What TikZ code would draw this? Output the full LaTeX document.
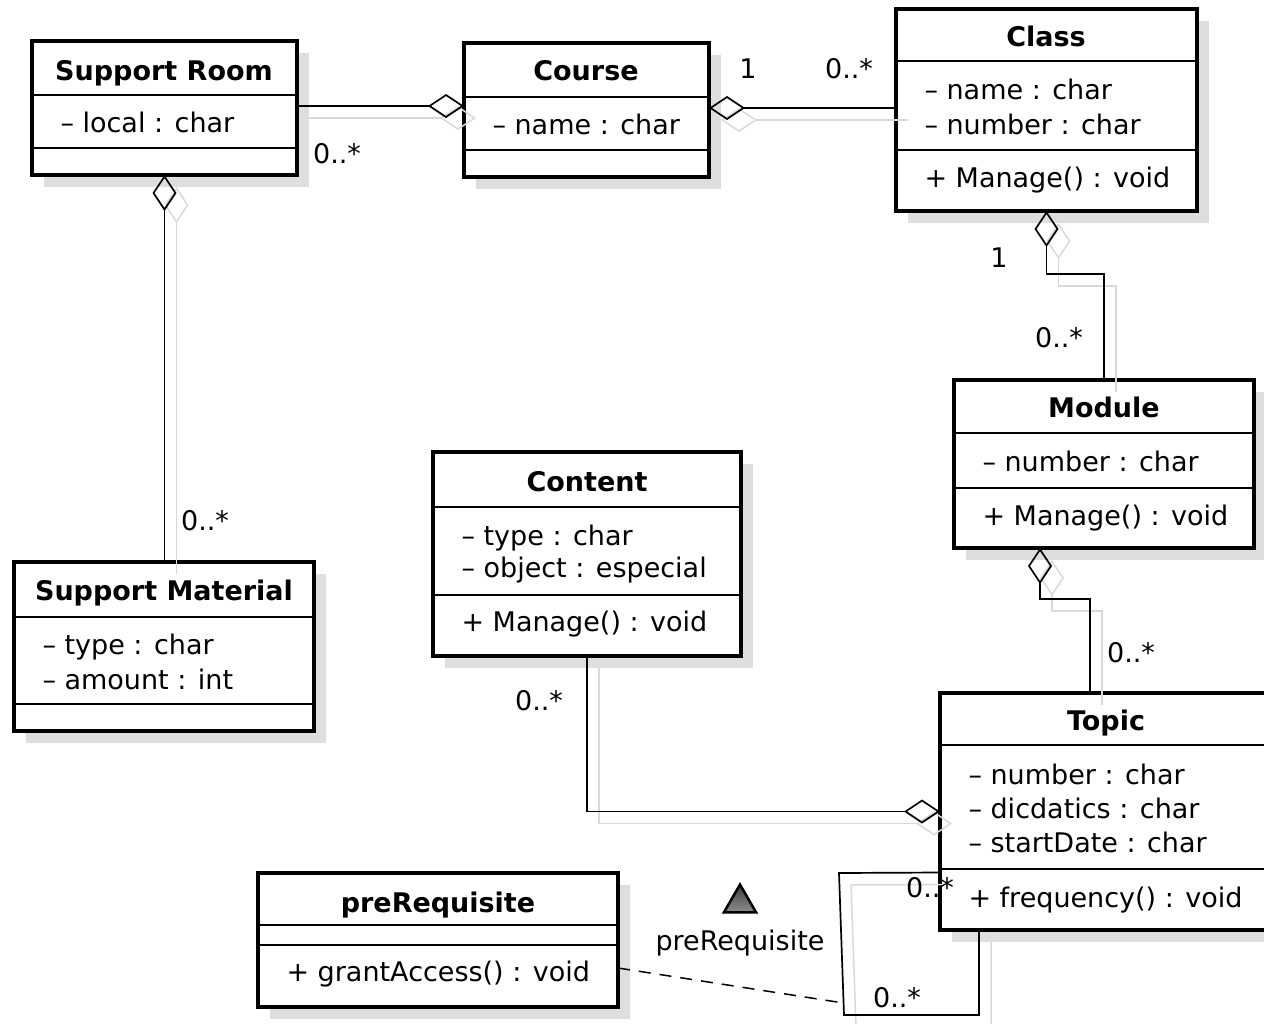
\documentclass[tikz,border=0pt]{standalone}
\usepackage{fontspec}
\setmainfont{DejaVu Sans}
\usetikzlibrary{arrows.meta,shapes.geometric}

% horizontal line between two compartments of a class box
\newcommand{\compsep}[2]{%
  \draw[sepline] ([yshift=-#2pt]#1.north west) -- ([yshift=-#2pt]#1.north east);
}

\tikzset{
  umlclass/.style={draw, fill=white, line width=4pt, anchor=north west,
    inner sep=0pt, outer sep=0pt,
    preaction={fill=black!13, draw=none, transform canvas={xshift=12pt, yshift=-12pt}}},
  sepline/.style={line width=1.5pt},
  ctitle/.style={anchor=base, font=\fontsize{27pt}{32pt}\selectfont\bfseries},
  member/.style={anchor=base west},
  mult/.style={anchor=base},
  shadowline/.style={preaction={draw=black!15, line width=1.5pt,
    transform canvas={xshift=12pt, yshift=-12pt}}},
  aggr/.style={shadowline, line width=1.7pt, {Diamond[open, length=36pt, width=24pt]}-},
  assoc/.style={shadowline, line width=1.7pt},
  linkdash/.style={line width=1.5pt, dash pattern=on 12pt off 9pt},
  dirmark/.style={regular polygon, regular polygon sides=3, minimum size=37pt,
    inner sep=0pt, draw, line width=2.5pt, top color=black!75, bottom color=black!45}
}

\begin{document}
\begin{tikzpicture}[x=1pt, y=-1pt, font=\fontsize{27pt}{32pt}\selectfont]
\useasboundingbox (0,0) rectangle (1264,1023);

% Support Room
\node[umlclass, minimum width=265pt, minimum height=134pt] (room) at (32,41) {};
\compsep{room}{54} \compsep{room}{107}
\node[ctitle] (room-t) at (164,80) {Support Room};
\node[member] (room-a1) at (57,132) {– local : char};

% Course
\node[umlclass, minimum width=245pt, minimum height=134pt] (course) at (464,43) {};
\compsep{course}{54} \compsep{course}{107}
\node[ctitle] (course-t) at (586,80) {Course};
\node[member] (course-a1) at (489,134) {– name : char};

% Class
\node[umlclass, minimum width=301pt, minimum height=202pt] (class) at (896,9) {};
\compsep{class}{52} \compsep{class}{141}
\node[ctitle] (class-t) at (1046,46) {Class};
\node[member] (class-a1) at (921,99) {– name : char};
\node[member] (class-a2) at (921,134) {– number : char};
\node[member] (class-o1) at (921,187) {+ Manage() : void};

% Module
\node[umlclass, minimum width=300pt, minimum height=168pt] (module) at (954,380) {};
\compsep{module}{53} \compsep{module}{108}
\node[ctitle] (module-t) at (1104,417) {Module};
\node[member] (module-a1) at (979,471) {– number : char};
\node[member] (module-o1) at (979,525) {+ Manage() : void};

% Content
\node[umlclass, minimum width=308pt, minimum height=204pt] (content) at (433,452) {};
\compsep{content}{55} \compsep{content}{143}
\node[ctitle] (content-t) at (587,491) {Content};
\node[member] (content-a1) at (458,545) {– type : char};
\node[member] (content-a2) at (458,577) {– object : especial};
\node[member] (content-o1) at (458,631) {+ Manage() : void};

% Support Material
\node[umlclass, minimum width=300pt, minimum height=169pt] (material) at (14,562) {};
\compsep{material}{55} \compsep{material}{142}
\node[ctitle] (material-t) at (164,600) {Support Material};
\node[member] (material-a1) at (39,654) {– type : char};
\node[member] (material-a2) at (39,689) {– amount : int};

% Topic
\node[umlclass, minimum width=332pt, minimum height=237pt] (topic) at (940,693) {};
\compsep{topic}{52} \compsep{topic}{176}
\node[ctitle] (topic-t) at (1106,730) {Topic};
\node[member] (topic-a1) at (965,784) {– number : char};
\node[member] (topic-a2) at (965,818) {– dicdatics : char};
\node[member] (topic-a3) at (965,852) {– startDate : char};
\node[member] (topic-o1) at (965,907) {+ frequency() : void};

% preRequisite
\node[umlclass, minimum width=360pt, minimum height=134pt] (prereq) at (258,873) {};
\compsep{prereq}{52} \compsep{prereq}{72}
\node[ctitle] (prereq-t) at (438,912) {preRequisite};
\node[member] (prereq-o1) at (283,981) {+ grantAccess() : void};

% aggregations
\coordinate (roomcourse) at ([yshift=4pt]course.west);
\draw[aggr] (roomcourse) -- (roomcourse -| room.east);
\coordinate (courseclass) at ([yshift=2pt]course.east);
\draw[aggr] (courseclass) -- (courseclass -| class.west);
\draw[aggr] (class.south) -- ++(0,63) -| (module.north);
\coordinate (topicup) at ([xshift=-16pt]topic.north);
\draw[aggr] ([xshift=-64pt]module.south) -- ++(0,51) -| (topicup);
\draw[aggr] (room.south) -- (room.south |- material.north);
\draw[aggr] (topic.west) -| (content.south);

% self association of Topic
\coordinate (selfa) at ([yshift=-61pt]topic.west);
\coordinate (selfb) at (839,873);
\coordinate (selfc) at (844,1015);
\coordinate (selfe) at ([xshift=39pt]topic.south west);
\coordinate (selfm) at (843.6,1003);
\draw[assoc] (selfa) -- (selfb) -- (selfc) -- (selfe |- selfc) -- (selfe);
\draw[linkdash] ([yshift=-28pt]prereq.east) -- (selfm);
\node[dirmark] (dir) at (740,903) {};
\node[mult] (assocname) at (740,950) {preRequisite};

% multiplicities
\node[mult] (m-room) at (337,163) {0..*};
\node[mult] (m-course) at (748,78) {1};
\node[mult] (m-class) at (849,78) {0..*};
\node[mult] (m-class2) at (999,267) {1};
\node[mult] (m-module) at (1059,347) {0..*};
\node[mult] (m-material) at (205,530) {0..*};
\node[mult] (m-topic) at (1131,662) {0..*};
\node[mult] (m-content) at (539,710) {0..*};
\node[mult] (m-self1) at (930,897) {0..*};
\node[mult] (m-self2) at (897,1007) {0..*};
\end{tikzpicture}
\end{document}
